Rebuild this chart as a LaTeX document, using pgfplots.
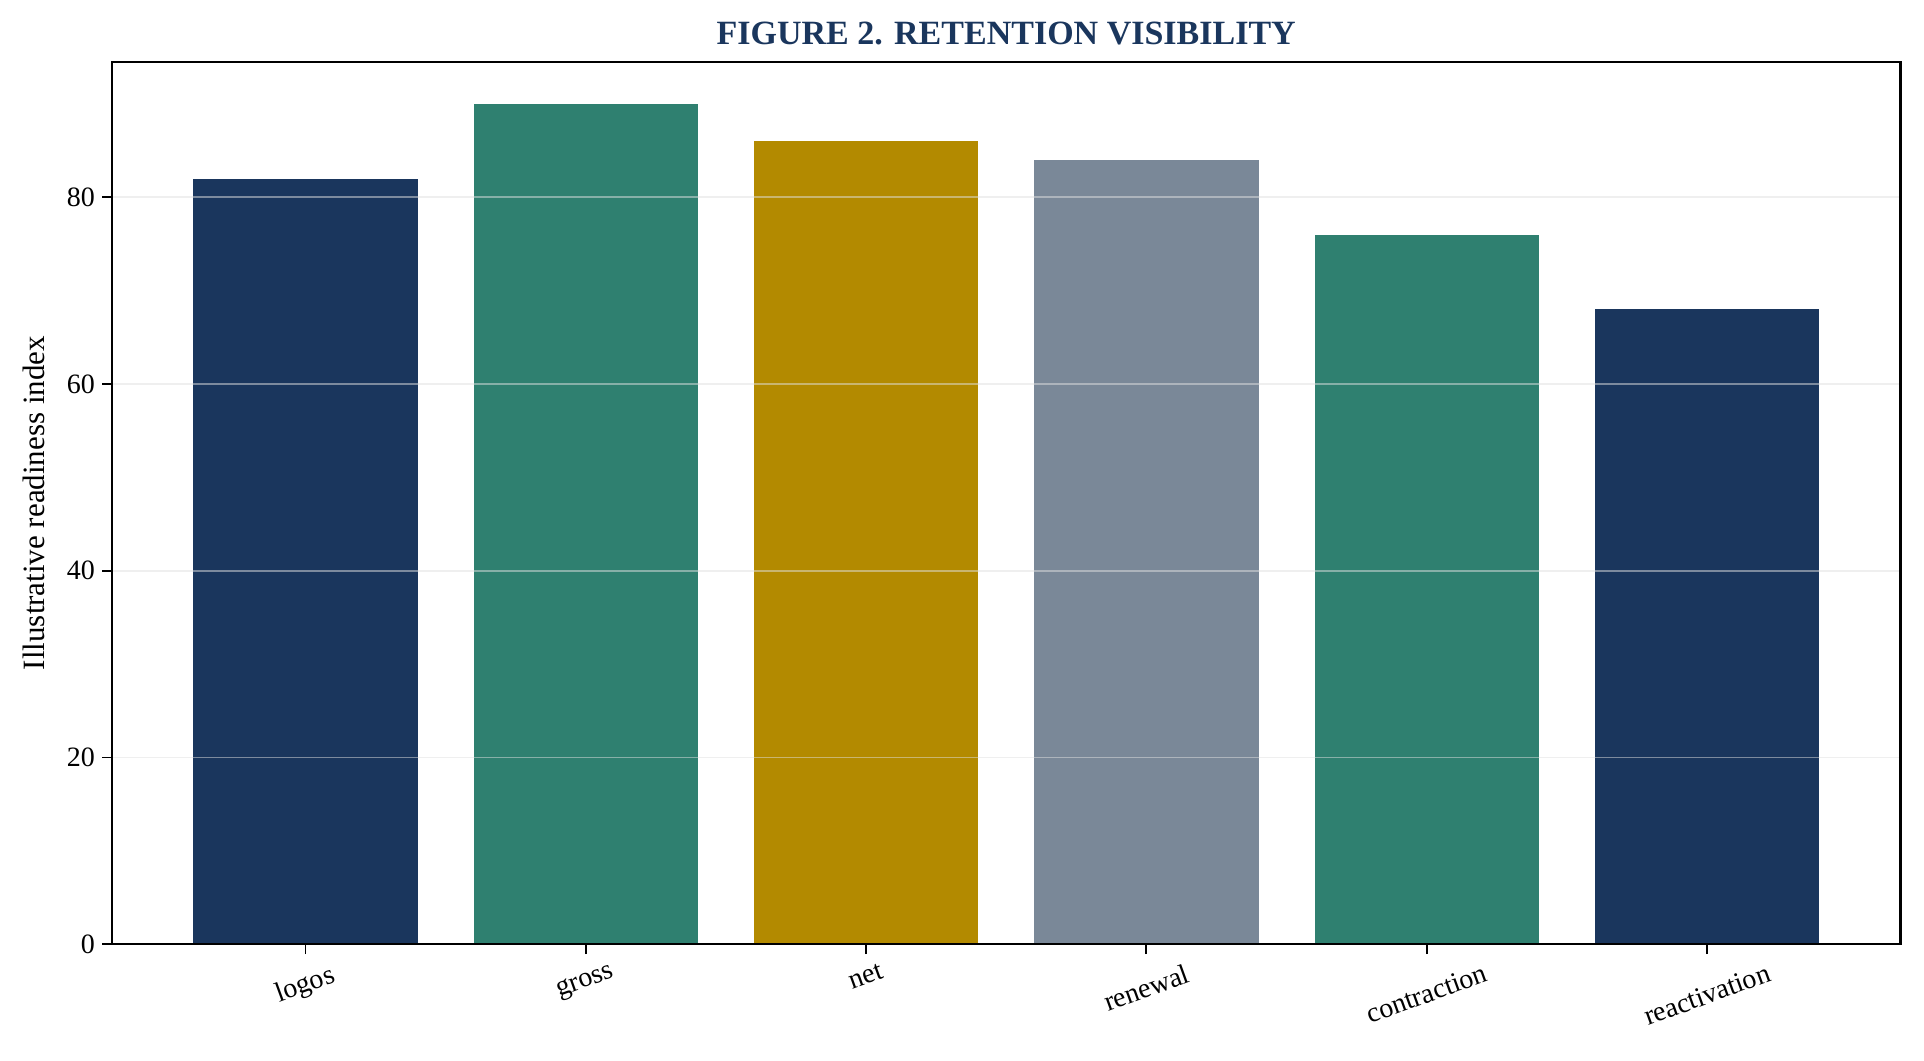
\documentclass[border=0pt]{standalone}
\usepackage{fontspec}
\setmainfont{Liberation Serif}
\usepackage{graphicx}
\usepackage{pgfplots}
\pgfplotsset{compat=1.18}

\definecolor{navy}{HTML}{1A365D}
\definecolor{teal}{HTML}{2F8070}
\definecolor{gold}{HTML}{B38A00}
\definecolor{slate}{HTML}{7A8898}

\begin{document}
\begin{tikzpicture}
  \begin{axis}[
    scale only axis,
    width=894pt, height=441pt,
    ybar, bar width=0.8, bar shift=0pt,
    xmin=-0.69, xmax=5.69,
    ymin=0, ymax=94.5,
    xtick={0,1,2,3,4,5},
    xticklabels={\rotatebox{20}{logos},\rotatebox{20}{gross},\rotatebox{20}{net},
                 \rotatebox{20}{renewal},\rotatebox{20}{contraction},\rotatebox{20}{reactivation}},
    ytick={0,20,40,60,80},
    tick align=outside, tick pos=left,
    major tick length=5pt,
    tick style={black, line width=0.9pt},
    axis line style={black, line width=1.1pt},
    ymajorgrids,
    major grid style={draw=black!12, line width=0.9pt, opacity=0.5},
    axis on top,
    /pgf/number format/assume math mode=true,
    ticklabel style={font=\fontsize{14}{16}\selectfont},
    xticklabel style={anchor=north, yshift=-1pt},
    ylabel={Illustrative readiness index},
    ylabel style={font=\fontsize{15.5}{18}\selectfont, at={(ticklabel cs:0.5)}, anchor=south, yshift=4pt},
    title={FIGURE 2. RETENTION VISIBILITY},
    title style={font=\bfseries\fontsize{17}{19}\selectfont, text=navy, at={(0.5,1)}, anchor=base, yshift=2.5pt},
  ]
    \addplot[fill=navy, draw=none] coordinates {(0,82)};
    \addplot[fill=teal, draw=none] coordinates {(1,90)};
    \addplot[fill=gold, draw=none] coordinates {(2,86)};
    \addplot[fill=slate, draw=none] coordinates {(3,84)};
    \addplot[fill=teal, draw=none] coordinates {(4,76)};
    \addplot[fill=navy, draw=none] coordinates {(5,68)};
  \end{axis}
  \pgfresetboundingbox
  \path ([xshift=-56pt,yshift=-58pt]current axis.south west) rectangle ([xshift=11.8pt,yshift=31pt]current axis.north east);
\end{tikzpicture}
\end{document}
